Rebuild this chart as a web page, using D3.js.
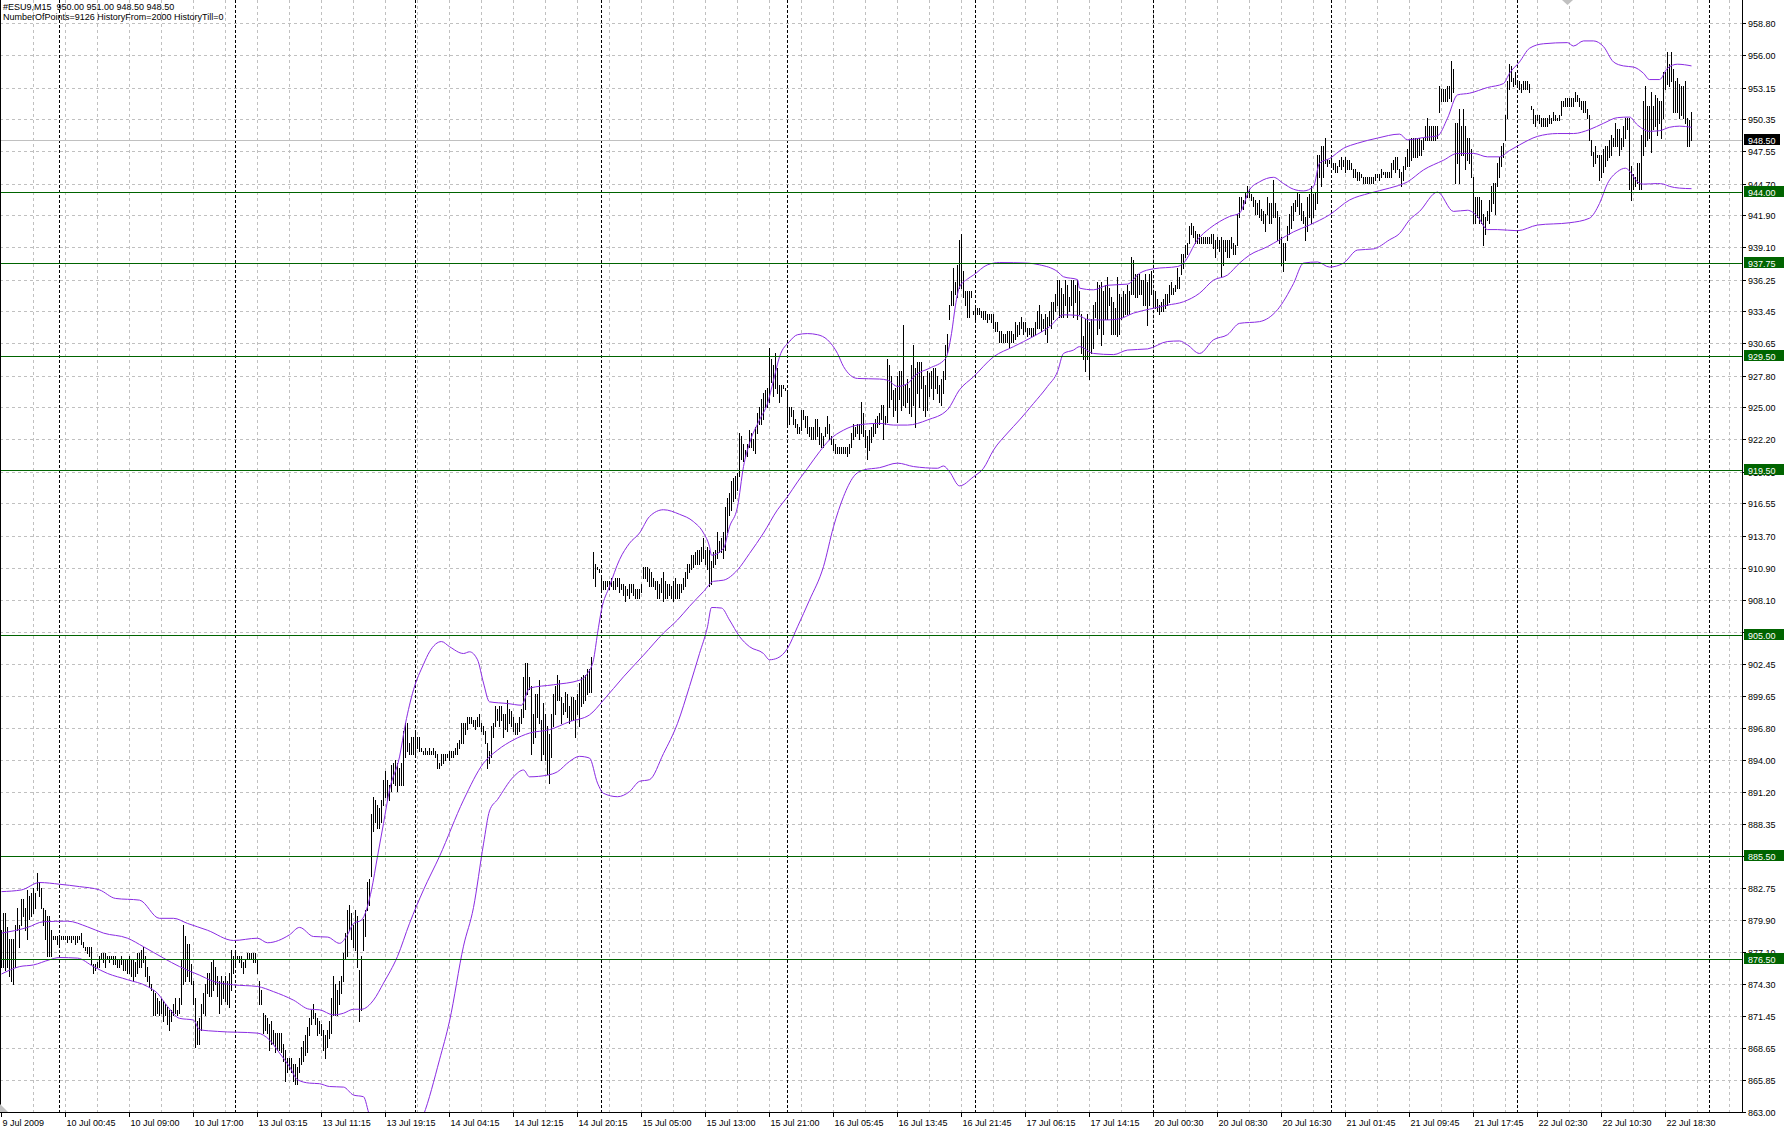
<!DOCTYPE html>
<html><head><meta charset="utf-8">
<script src="https://cdn.jsdelivr.net/npm/d3@7"></script>
<style>
html,body{margin:0;padding:0;background:#fff;overflow:hidden}
svg{display:block}
text{font-family:"Liberation Sans",Arial,sans-serif;font-size:9px;white-space:pre}
</style>
</head><body>
<svg id="chart" width="1784" height="1132"></svg>
<script>
// ---------------- DATA ----------------
const symbolTitle = "#ESU9,M15  950.00 951.00 948.50 948.50";
const infoLine = "NumberOfPoints=9126 HistoryFrom=2000 HistoryTill=0";

const highs = [
/*0*/ 879.0,880.5,880.5,879.25,878.25,878.25,878.25,879.5,881.0,879.5,
/*10*/ 881.75,881.75,881.0,882.5,882.0,882.25,882.75,882.25,884.0,883.25,
/*20*/ 882.75,881.0,880.75,880.25,880.25,879.0,878.5,878.5,878.5,878.5,
/*30*/ 878.5,878.5,878.5,878.5,878.5,878.5,878.5,878.5,878.5,878.5,
/*40*/ 878.75,878.0,877.5,877.5,877.5,877.5,876.0,876.0,876.25,876.75,
/*50*/ 877.0,877.0,877.0,876.75,876.75,876.75,876.75,876.75,876.5,876.5,
/*60*/ 876.75,876.5,876.5,876.5,876.75,876.5,876.5,876.25,877.0,877.0,
/*70*/ 877.25,877.5,876.75,875.75,875.0,874.25,873.75,873.5,873.0,872.75,
/*80*/ 873.0,872.75,872.5,872.25,872.0,872.0,872.5,873.0,872.0,873.0,
/*90*/ 876.5,879.5,878.5,877.75,877.75,876.0,874.5,873.0,871.0,871.25,
/*100*/ 872.5,873.5,874.25,875.25,875.25,876.25,876.5,875.75,875.0,874.5,
/*110*/ 875.0,874.5,875.0,874.5,875.25,877.25,876.75,877.0,876.75,876.75,
/*120*/ 876.75,876.25,876.5,877.0,877.0,877.0,877.0,877.0,876.5,874.5,
/*130*/ 873.75,871.75,871.5,871.25,870.75,871.0,870.25,870.0,870.0,870.0,
/*140*/ 870.0,869.0,868.5,867.75,867.75,867.75,867.25,867.25,867.0,867.75,
/*150*/ 868.75,869.25,869.75,870.5,871.25,872.0,872.5,871.75,871.25,871.0,
/*160*/ 870.75,870.25,869.75,870.25,871.0,873.0,875.0,874.25,873.75,874.5,
/*170*/ 875.0,877.0,878.75,880.75,881.25,880.5,879.5,880.75,880.25,875.5,
/*180*/ 876.75,880.0,880.75,883.25,883.5,889.25,890.75,890.5,890.0,889.75,
/*190*/ 890.5,892.25,893.0,892.25,891.75,893.5,893.75,894.0,893.75,893.25,
/*200*/ 893.75,896.5,897.25,897.25,895.5,896.0,896.0,896.5,896.0,896.0,
/*210*/ 895.0,894.75,895.0,894.75,895.0,894.75,895.0,894.75,894.5,893.75,
/*220*/ 894.5,894.5,894.5,894.5,894.75,894.75,894.75,895.0,895.5,895.75,
/*230*/ 897.25,897.25,897.25,897.75,897.75,897.75,897.5,897.5,897.75,898.0,
/*240*/ 897.25,897.0,896.5,895.5,894.75,897.0,897.25,898.75,898.5,898.75,
/*250*/ 898.75,898.0,898.0,899.25,898.5,898.25,897.75,897.25,897.25,897.75,
/*260*/ 898.5,901.25,902.5,902.5,901.25,900.5,898.0,899.75,899.75,901.0,
/*270*/ 897.5,899.0,898.0,897.0,896.25,898.0,899.75,900.5,901.5,901.0,
/*280*/ 899.5,899.0,900.0,899.75,898.75,899.5,899.5,899.25,899.75,900.75,
/*290*/ 901.25,901.5,901.5,902.0,902.0,903.0,912.25,911.25,911.0,910.75,
/*300*/ 910.25,909.75,909.75,909.75,909.75,910.0,909.75,910.0,910.0,910.0,
/*310*/ 909.5,909.5,909.25,909.0,909.5,909.5,909.5,909.0,909.0,909.0,
/*320*/ 909.5,911.0,911.0,911.0,910.75,910.5,910.0,909.75,909.75,909.5,
/*330*/ 910.0,910.5,909.75,909.5,909.5,909.25,909.75,910.0,909.5,909.5,
/*340*/ 909.5,910.0,910.5,911.25,911.25,912.0,912.0,912.25,912.5,912.5,
/*350*/ 912.75,913.5,912.5,912.75,912.5,911.5,912.25,912.5,914.0,913.25,
/*360*/ 913.5,914.0,916.25,917.0,917.5,918.5,918.75,919.0,919.25,922.75,
/*370*/ 922.5,921.75,921.25,921.75,923.0,922.75,922.25,923.25,924.5,925.0,
/*380*/ 925.75,926.25,926.5,926.75,930.25,929.25,928.75,929.75,928.5,927.0,
/*390*/ 927.0,927.0,926.75,926.5,925.0,925.0,924.75,924.0,923.5,923.25,
/*400*/ 924.75,924.75,924.25,924.25,923.25,923.25,923.25,924.0,924.0,923.25,
/*410*/ 922.75,922.5,923.25,924.25,923.5,922.5,922.25,921.75,921.5,921.5,
/*420*/ 921.5,921.5,921.5,921.5,921.75,922.75,923.5,923.25,923.5,923.5,
/*430*/ 925.5,924.5,923.0,922.5,923.0,923.25,923.5,924.0,924.25,924.5,
/*440*/ 925.25,925.25,924.25,929.25,928.75,927.75,926.5,926.75,927.75,928.25,
/*450*/ 928.25,932.25,927.0,927.5,926.75,928.75,930.5,928.5,929.0,929.0,
/*460*/ 929.0,927.75,927.0,928.25,928.0,928.25,928.5,928.5,927.75,927.0,
/*470*/ 927.5,928.25,930.5,931.5,934.0,935.25,937.25,936.0,937.5,939.75,
/*480*/ 940.25,937.0,935.25,935.25,935.25,935.25,933.5,933.75,933.75,933.75,
/*490*/ 933.5,933.5,933.5,933.25,933.25,933.25,933.25,932.5,932.5,931.75,
/*500*/ 931.75,931.5,931.5,931.75,931.75,931.75,931.5,932.5,932.25,932.5,
/*510*/ 933.0,932.5,932.5,932.0,932.0,932.0,932.0,932.5,933.5,934.0,
/*520*/ 933.25,932.75,933.25,933.0,933.5,934.25,934.25,935.0,936.25,936.25,
/*530*/ 935.5,935.0,936.25,935.75,934.75,936.25,936.25,935.75,936.25,935.25,
/*540*/ 933.25,931.25,932.75,933.25,932.5,932.75,934.0,934.25,936.0,935.75,
/*550*/ 936.0,935.25,935.75,936.5,935.5,934.75,934.25,933.75,936.5,935.0,
/*560*/ 934.75,935.25,935.0,935.75,935.25,938.25,938.0,936.75,936.75,936.75,
/*570*/ 936.25,936.25,936.75,936.0,936.75,937.0,935.25,935.25,934.5,934.0,
/*580*/ 934.25,934.5,935.0,935.0,935.75,936.0,935.5,935.75,937.25,936.5,
/*590*/ 938.5,938.5,939.25,939.5,941.0,941.25,941.0,940.5,940.25,940.25,
/*600*/ 940.0,940.0,940.0,940.0,940.0,940.25,940.25,939.75,940.0,939.75,
/*610*/ 940.0,939.75,939.75,939.75,939.75,940.0,939.5,939.25,942.0,943.5,
/*620*/ 943.5,943.25,944.0,944.5,944.25,943.75,943.5,943.25,943.0,943.25,
/*630*/ 942.5,942.25,942.0,943.5,943.0,943.0,945.0,943.0,942.25,941.75,
/*640*/ 940.0,939.5,939.5,941.0,942.0,942.75,943.0,943.25,944.0,943.75,
/*650*/ 943.0,942.25,941.75,943.5,943.75,944.5,943.75,944.0,947.25,947.25,
/*660*/ 948.0,948.0,948.75,946.75,946.75,947.0,946.5,946.5,946.25,946.75,
/*670*/ 947.0,946.75,947.0,946.75,946.75,946.5,946.0,946.0,945.75,945.75,
/*680*/ 945.5,945.25,945.25,945.25,945.25,945.25,945.25,945.5,945.5,945.5,
/*690*/ 946.0,945.75,945.75,945.75,945.75,946.5,946.75,947.0,947.0,946.0,
/*700*/ 945.75,946.25,947.0,947.75,948.5,948.75,948.75,948.75,948.75,948.75,
/*710*/ 948.5,948.75,949.75,950.5,949.75,949.75,949.75,949.75,949.75,953.25,
/*720*/ 953.0,953.0,953.0,953.25,953.25,955.5,954.75,950.0,950.0,951.25,
/*730*/ 949.75,951.25,949.75,948.75,948.75,947.75,945.25,943.5,943.5,943.5,
/*740*/ 943.25,942.0,941.75,942.25,943.25,944.5,944.75,944.75,946.5,947.0,
/*750*/ 948.0,948.25,950.75,953.75,955.25,955.0,954.0,954.5,953.75,953.75,
/*760*/ 953.5,953.75,953.75,953.75,953.5,951.5,951.25,950.75,950.75,950.75,
/*770*/ 950.5,950.5,950.5,950.5,950.75,950.5,951.0,950.75,950.5,950.75,
/*780*/ 952.0,952.0,952.25,952.25,952.25,952.25,952.25,952.75,952.5,952.25,
/*790*/ 952.0,952.0,952.0,951.25,950.75,948.5,947.5,948.0,947.25,947.25,
/*800*/ 947.25,947.75,948.0,948.0,948.5,949.0,948.75,950.0,949.5,949.5,
/*810*/ 948.75,949.75,950.5,950.5,950.5,946.25,945.5,945.25,946.5,946.5,
/*820*/ 949.0,952.0,953.25,951.5,951.5,952.75,951.5,952.5,952.25,952.0,
/*830*/ 952.0,954.5,954.5,956.25,955.25,956.25,954.75,953.75,954.0,953.5,
/*840*/ 953.25,953.25,953.75,950.5,950.25,951.0
];

const lows = [
/*0*/ 875.75,875.75,875.5,875.75,875.0,874.5,874.25,875.75,879.0,877.5,
/*10*/ 879.5,880.25,879.0,878.25,880.0,880.25,880.5,881.0,882.5,882.0,
/*20*/ 881.0,879.5,878.25,876.75,876.75,876.75,878.25,878.25,877.75,877.75,
/*30*/ 878.25,878.25,878.25,878.0,878.25,878.0,878.25,877.75,878.0,878.25,
/*40*/ 877.75,877.5,877.25,877.0,876.75,876.0,875.25,875.5,875.75,875.75,
/*50*/ 876.5,876.25,875.75,876.5,876.25,876.5,876.0,876.0,875.75,875.75,
/*60*/ 876.0,875.5,875.5,875.25,875.25,875.0,874.5,875.0,875.25,875.75,
/*70*/ 875.75,876.25,875.0,874.5,874.0,873.75,871.5,871.5,871.75,871.5,
/*80*/ 871.75,871.0,871.5,870.75,870.25,871.0,871.5,871.75,871.5,871.75,
/*90*/ 872.5,874.25,874.5,875.0,874.5,874.25,872.5,868.75,869.0,869.0,
/*100*/ 870.25,871.75,871.5,873.5,873.25,873.25,873.75,874.25,873.25,871.75,
/*110*/ 872.5,873.0,872.75,872.5,872.25,873.75,875.25,876.0,876.5,876.25,
/*120*/ 875.75,875.25,875.75,876.5,876.5,876.5,876.25,876.25,875.25,872.5,
/*130*/ 872.5,870.0,870.25,870.0,868.5,869.0,869.0,868.25,868.5,868.5,
/*140*/ 868.25,867.5,865.75,866.5,866.75,866.5,865.75,865.5,865.5,866.5,
/*150*/ 867.25,867.5,868.0,868.25,869.75,870.75,871.25,870.75,869.75,870.0,
/*160*/ 869.75,868.5,867.75,868.75,869.5,870.0,871.5,871.5,871.5,872.5,
/*170*/ 873.5,874.5,876.5,876.75,879.0,878.25,877.5,877.25,875.75,871.0,
/*180*/ 872.0,877.25,878.5,880.75,881.25,883.75,887.75,888.5,888.0,888.0,
/*190*/ 888.5,890.0,890.75,890.5,890.5,891.25,892.0,891.75,891.25,891.75,
/*200*/ 891.75,891.75,894.25,894.75,894.5,894.5,894.5,894.25,895.0,894.75,
/*210*/ 894.75,894.5,894.5,894.5,894.5,894.5,894.5,894.25,893.25,893.25,
/*220*/ 893.5,893.75,894.0,894.25,894.0,894.25,894.25,894.5,894.5,895.0,
/*230*/ 895.5,895.5,896.25,896.75,897.25,897.25,897.0,896.75,897.0,897.0,
/*240*/ 896.5,896.25,895.5,893.25,893.75,894.25,896.0,897.0,897.5,897.0,
/*250*/ 897.5,896.0,896.75,896.5,897.25,897.0,896.5,896.25,896.25,896.5,
/*260*/ 897.25,897.75,898.5,899.75,900.25,894.5,895.5,896.0,897.75,897.25,
/*270*/ 894.0,894.5,894.0,892.75,892.0,894.25,897.0,898.0,899.25,899.25,
/*280*/ 897.25,898.0,898.25,897.75,897.25,897.5,897.5,896.0,898.0,897.0,
/*290*/ 898.75,899.0,899.25,899.75,900.0,900.0,910.0,909.25,910.75,910.5,
/*300*/ 909.0,909.0,909.0,909.25,909.0,909.25,909.0,909.0,909.25,908.75,
/*310*/ 909.0,908.5,908.0,908.5,908.25,908.75,908.5,908.25,908.25,908.25,
/*320*/ 908.75,910.0,910.0,909.75,909.25,909.25,909.25,909.0,908.25,908.25,
/*330*/ 908.75,908.0,908.25,908.25,908.5,908.25,908.0,908.25,908.25,908.25,
/*340*/ 908.75,909.0,909.25,910.0,910.5,910.75,911.0,911.25,911.25,911.25,
/*350*/ 911.5,911.75,911.25,910.75,909.25,909.5,911.0,911.25,911.75,912.25,
/*360*/ 912.25,911.75,912.5,914.0,915.5,916.0,916.75,917.0,917.75,919.0,
/*370*/ 920.5,920.25,920.75,920.75,921.5,921.5,921.25,921.0,922.75,923.5,
/*380*/ 923.5,924.0,925.0,925.0,925.5,927.25,926.0,926.75,926.25,925.5,
/*390*/ 926.0,926.75,926.5,923.5,923.5,924.25,923.5,923.25,922.75,922.75,
/*400*/ 923.0,924.0,923.25,922.75,922.5,922.25,922.25,922.25,922.5,921.75,
/*410*/ 921.5,921.5,922.5,922.75,922.25,921.75,921.25,921.0,921.0,921.0,
/*420*/ 921.0,921.0,921.0,920.75,921.0,921.5,922.25,922.5,922.75,922.25,
/*430*/ 922.75,922.5,921.5,920.5,921.25,922.0,922.5,922.75,923.25,923.5,
/*440*/ 924.0,922.25,923.5,923.75,925.0,925.75,924.25,924.75,923.75,925.75,
/*450*/ 924.75,925.25,925.0,925.5,924.5,924.25,925.25,923.25,926.25,925.0,
/*460*/ 926.75,924.75,924.25,924.75,926.0,926.75,925.75,926.75,926.25,925.5,
/*470*/ 925.25,926.25,927.5,929.75,932.75,934.0,934.0,935.0,934.75,935.5,
/*480*/ 935.5,934.75,934.0,933.0,933.0,934.75,933.25,932.75,933.25,933.25,
/*490*/ 933.0,932.75,932.75,932.5,932.75,932.5,932.0,931.75,931.75,930.75,
/*500*/ 930.75,930.75,930.75,930.75,930.25,930.75,930.75,931.0,931.25,931.5,
/*510*/ 932.0,931.5,931.75,931.25,931.5,931.25,931.25,931.5,932.0,932.0,
/*520*/ 931.75,932.0,931.5,930.75,932.25,932.0,932.75,933.5,934.0,933.0,
/*530*/ 933.0,933.0,934.0,933.0,933.5,934.0,933.0,934.25,932.75,933.25,
/*540*/ 929.75,929.25,928.25,929.25,927.5,929.75,930.25,933.0,931.5,932.0,
/*550*/ 930.5,931.5,932.75,932.75,934.0,931.5,931.5,931.5,931.25,931.5,
/*560*/ 932.75,933.0,933.25,933.25,933.25,935.0,935.0,934.75,934.75,935.0,
/*570*/ 935.0,934.0,934.0,932.25,934.0,935.0,934.0,933.75,933.5,933.25,
/*580*/ 933.5,933.5,933.75,934.0,934.25,935.0,935.0,935.25,935.5,935.5,
/*590*/ 936.75,937.25,938.25,938.5,939.5,940.25,940.0,939.5,939.5,939.5,
/*600*/ 939.5,939.5,939.5,939.5,939.5,939.5,939.0,938.25,939.0,938.75,
/*610*/ 936.5,937.5,938.75,938.25,938.25,939.0,938.5,938.5,939.25,941.75,
/*620*/ 942.5,942.5,943.0,943.5,943.5,943.25,942.75,942.0,942.0,941.75,
/*630*/ 941.5,941.25,940.5,942.0,941.25,941.25,941.75,941.75,939.75,939.5,
/*640*/ 937.5,937.0,938.0,939.75,940.25,940.75,941.5,942.25,942.75,942.0,
/*650*/ 941.5,941.25,939.75,940.5,941.75,941.25,941.75,942.5,943.0,945.25,
/*660*/ 944.5,945.25,946.5,946.25,946.5,946.25,946.0,945.75,945.75,946.25,
/*670*/ 946.0,946.25,945.75,946.0,946.0,946.0,945.25,945.25,945.0,945.0,
/*680*/ 945.25,944.75,944.75,944.75,944.75,944.75,944.75,945.0,945.25,945.0,
/*690*/ 945.25,945.5,945.25,945.25,945.25,945.25,946.0,945.75,946.0,945.25,
/*700*/ 944.5,945.0,946.0,946.25,946.25,946.75,947.0,947.0,947.0,947.25,
/*710*/ 947.25,947.75,948.5,948.5,948.5,948.5,948.5,948.5,948.75,951.0,
/*720*/ 952.0,952.0,952.0,952.0,952.25,952.0,952.75,944.75,946.5,944.75,
/*730*/ 947.25,947.25,946.0,946.75,946.5,945.25,941.25,941.25,941.75,941.25,
/*740*/ 941.25,939.25,940.25,941.5,941.25,942.25,943.0,942.0,944.5,945.25,
/*750*/ 946.25,947.0,948.5,950.5,953.0,953.75,953.25,953.5,953.5,953.0,
/*760*/ 952.75,953.0,953.0,953.0,952.75,951.25,950.0,949.75,950.25,950.0,
/*770*/ 949.75,949.75,949.75,949.75,950.0,950.0,950.25,950.25,950.25,950.25,
/*780*/ 950.75,951.5,951.5,951.5,951.5,951.5,951.5,952.0,952.0,951.5,
/*790*/ 951.25,951.0,951.0,950.5,948.5,947.25,946.25,946.5,947.0,945.0,
/*800*/ 945.25,945.75,946.25,946.75,947.0,947.25,948.0,948.0,948.0,947.25,
/*810*/ 947.75,948.0,948.75,949.5,944.25,943.25,944.25,944.5,944.75,944.25,
/*820*/ 944.25,947.25,948.0,948.5,948.75,947.5,949.5,949.75,949.0,950.0,
/*830*/ 948.75,950.5,953.0,953.5,953.25,953.75,951.0,951.0,951.0,950.5,
/*840*/ 950.75,950.5,950.0,948.0,948.0,948.5
];

// Bollinger bands, read at [barIndex, price]
const upperBand = [[0,882.4],[10,882.55],[19,883.2],[29,883.05],[39,882.84],[49,882.55],[57,881.8],[69,881.65],[79,880.05],[86,880.05],[93,879.6],[103,879.0],[116,878.1],[128,878.3],[133,877.9],[144,878.6],[149,879.25],[156,878.45],[163,878.4],[169,877.85],[173,878.6],[176,879.6],[180,879.9],[183,881.1],[185,882.55],[188,885.5],[191,888.4],[194,891.35],[199,894.25],[202,897.2],[206,900.15],[211,902.4],[214,903.5],[220,904.4],[224,903.95],[231,903.35],[234,903.5],[238,902.8],[241,900.75],[244,899.1],[253,898.95],[260,898.8],[264,900.3],[276,900.6],[289,901.0],[293,901.6],[296,902.8],[298,905.1],[300,907.2],[304,909.25],[309,911.6],[314,913.05],[319,913.95],[324,915.4],[331,916.0],[339,915.6],[346,914.95],[351,913.95],[354,912.75],[355,912.0],[361,912.6],[364,914.5],[368,916.25],[371,919.8],[374,921.85],[379,923.9],[383,925.35],[386,927.4],[389,929.45],[394,930.8],[398,931.4],[403,931.5],[408,931.4],[413,930.95],[418,929.75],[421,928.6],[428,927.55],[439,927.5],[443,927.4],[448,926.85],[453,927.1],[457,927.85],[464,928.45],[472,929.3],[475,931.5],[477,934.0],[479,935.6],[483,936.3],[486,936.65],[493,937.55],[499,937.75],[513,937.7],[519,937.55],[528,936.95],[531,936.5],[538,936.25],[539,935.5],[546,935.35],[553,935.75],[563,935.85],[569,936.8],[576,937.2],[588,937.4],[591,937.7],[598,939.75],[604,940.75],[609,941.35],[614,941.8],[619,942.1],[624,944.15],[629,944.85],[636,945.25],[641,944.7],[646,944.2],[651,944.05],[656,944.45],[659,946.5],[664,946.9],[671,947.8],[678,948.25],[688,948.7],[699,949.05],[703,948.55],[711,948.75],[718,948.9],[723,950.45],[728,952.5],[734,952.65],[743,953.15],[751,953.5],[754,954.4],[759,955.4],[764,956.6],[771,957.0],[783,957.1],[786,956.8],[791,957.25],[796,957.25],[801,956.75],[806,955.4],[811,955.05],[816,954.95],[821,954.4],[824,953.85],[829,953.85],[833,954.85],[838,955.2],[845,955.05]];

const middleBand = [[0,878.75],[13,879.25],[21,879.75],[33,879.8],[43,879.3],[51,878.75],[63,878.3],[71,877.55],[81,876.55],[89,875.8],[99,875.05],[106,874.5],[116,874.2],[128,874.05],[136,873.6],[146,872.85],[154,872.05],[159,872.0],[166,871.55],[171,871.7],[176,872.05],[180,872.05],[186,872.85],[191,874.35],[198,876.7],[204,879.6],[211,882.55],[219,885.5],[231,890.45],[241,893.7],[248,894.85],[256,895.75],[264,896.35],[274,896.65],[284,897.35],[294,897.95],[301,899.25],[311,901.3],[321,903.2],[331,905.15],[338,906.3],[344,907.5],[351,908.8],[356,909.7],[361,909.8],[368,910.7],[374,912.15],[381,913.95],[388,916.0],[393,917.15],[398,918.45],[403,919.65],[409,921.1],[414,922.15],[421,923.0],[428,923.45],[439,923.6],[446,923.45],[453,923.45],[463,923.9],[473,924.8],[479,926.55],[486,927.7],[496,929.45],[506,930.35],[516,931.25],[524,932.1],[531,933.15],[538,933.1],[544,932.7],[553,932.7],[559,932.8],[566,933.3],[574,933.65],[583,934.0],[591,934.3],[599,935.05],[606,936.2],[613,936.65],[619,937.7],[624,938.4],[633,939.15],[639,939.75],[646,940.45],[654,941.05],[664,941.95],[674,943.25],[684,943.85],[694,944.3],[703,944.85],[711,945.9],[721,946.75],[728,947.35],[736,947.35],[743,947.05],[749,947.05],[754,947.6],[759,948.1],[768,948.85],[778,949.1],[786,949.1],[794,949.45],[801,950.0],[808,950.5],[814,950.55],[818,949.85],[824,949.3],[829,949.35],[834,949.65],[839,949.75],[845,949.65]];

const lowerBand = [[0,875.15],[9,875.8],[16,875.95],[24,876.4],[29,876.6],[38,876.55],[46,875.8],[53,875.2],[63,874.65],[73,874.05],[78,873.45],[83,872.3],[89,871.25],[96,871.1],[99,870.25],[108,870.1],[128,869.95],[134,869.35],[139,868.2],[144,867.0],[148,865.85],[154,865.55],[159,865.5],[164,865.25],[171,865.2],[176,864.5],[181,864.35],[184,862.75],[186,862.2],[191,860.25],[198,859.7],[204,860.5],[211,862.75],[219,867.6],[224,871.0],[231,877.6],[236,881.0],[241,886.6],[244,889.5],[248,890.5],[256,892.5],[261,893.1],[264,892.5],[273,892.65],[278,892.95],[284,893.85],[289,894.3],[294,894.15],[298,891.95],[301,891.05],[308,890.75],[314,891.2],[319,892.1],[324,892.25],[331,894.55],[338,897.2],[344,900.45],[349,903.35],[353,905.7],[355,907.4],[360,907.35],[364,906.3],[369,904.85],[374,903.95],[381,903.35],[384,902.8],[388,902.95],[393,903.8],[398,905.7],[404,908.05],[411,911.0],[416,914.5],[421,917.15],[426,918.9],[431,919.5],[439,919.7],[448,920.1],[456,919.8],[468,919.65],[471,919.85],[474,919.35],[479,918.1],[486,918.9],[491,919.65],[496,921.25],[503,922.75],[509,923.9],[516,925.35],[523,926.85],[528,928.15],[531,929.75],[536,930.05],[539,930.35],[546,929.75],[556,929.65],[563,930.05],[573,930.15],[583,930.8],[589,930.85],[593,930.5],[599,929.75],[606,930.95],[613,931.4],[619,932.4],[629,932.55],[638,933.6],[646,935.9],[651,937.7],[658,937.8],[664,937.35],[671,937.7],[678,938.85],[686,938.95],[694,939.75],[699,940.3],[704,941.5],[709,942.25],[718,943.95],[726,942.25],[733,942.35],[738,941.8],[743,940.65],[748,940.65],[758,940.55],[768,941.05],[784,941.25],[794,941.65],[799,942.95],[803,944.7],[808,945.75],[812,946.05],[814,945.8],[818,944.85],[821,944.65],[828,944.7],[831,944.65],[834,944.45],[839,944.3],[845,944.25]];

const timeLabels = ["9 Jul 2009","10 Jul 00:45","10 Jul 09:00","10 Jul 17:00","13 Jul 03:15","13 Jul 11:15","13 Jul 19:15","14 Jul 04:15","14 Jul 12:15","14 Jul 20:15","15 Jul 05:00","15 Jul 13:00","15 Jul 21:00","16 Jul 05:45","16 Jul 13:45","16 Jul 21:45","17 Jul 06:15","17 Jul 14:15","20 Jul 00:30","20 Jul 08:30","20 Jul 16:30","21 Jul 01:45","21 Jul 09:45","21 Jul 17:45","22 Jul 02:30","22 Jul 10:30","22 Jul 18:30"];
const timeLabelBars = [0,32,64,96,128,160,192,224,256,288,320,352,384,416,448,480,512,544,576,608,640,672,704,736,768,800,832];
const daySeparatorBars = [29,117,207,300,393,487,576,665,758,854];

const priceTicks = ["863.00","865.85","868.65","871.45","874.30","877.10","879.90","882.75","885.55","888.35","891.20","894.00","896.80","899.65","902.45","905.25","908.10","910.90","913.70","916.55","919.35","922.20","925.00","927.80","930.65","933.45","936.25","939.10","941.90","944.70","947.55","950.35","953.15","956.00","958.80"];

const levelLines = [944.00, 937.75, 929.50, 919.50, 905.00, 885.50, 876.50];
const lastPrice = 948.50;

// ---------------- DRAW ----------------
const svg = d3.select("#chart");
const W = 1784, H = 1132;
const plotRight = 1742, plotBottom = 1112;

const x = d3.scaleLinear().domain([0, 1]).range([1.5, 3.5]);           // bar index -> px
const y = d3.scaleLinear().domain([863, 958.8]).range([1112.1, 23.3]); // price -> px
const yc = v => Math.round(y(v)) + 0.5;

svg.append("rect").attr("width", W).attr("height", H).attr("fill", "#fff");

const defs = svg.append("defs");
defs.append("clipPath").attr("id", "plotClip").append("rect")
  .attr("x", 0).attr("y", 0).attr("width", plotRight).attr("height", plotBottom);

const grid = svg.append("g").attr("shape-rendering", "crispEdges");
grid.selectAll("line.hg").data(priceTicks).join("line")
  .attr("x1", 0).attr("x2", plotRight)
  .attr("y1", d => yc(+d)).attr("y2", d => yc(+d))
  .attr("stroke", "#c0c0c0").attr("stroke-dasharray", "3,3");
const vgBars = d3.range(16, 880, 16).filter(b => x(b) < plotRight);
grid.selectAll("line.vg").data(vgBars).join("line")
  .attr("x1", d => x(d)).attr("x2", d => x(d))
  .attr("y1", 0).attr("y2", plotBottom)
  .attr("stroke", "#c0c0c0").attr("stroke-dasharray", "3,3");
grid.selectAll("line.sep").data(daySeparatorBars).join("line")
  .attr("x1", d => x(d)).attr("x2", d => x(d))
  .attr("y1", 0).attr("y2", plotBottom)
  .attr("stroke", "#000").attr("stroke-dasharray", "3,2");

const plot = svg.append("g").attr("clip-path", "url(#plotClip)");

plot.append("line").attr("x1", 0).attr("x2", plotRight)
  .attr("y1", yc(lastPrice)).attr("y2", yc(lastPrice))
  .attr("stroke", "#c0c0c0").attr("shape-rendering", "crispEdges");

plot.append("g").attr("shape-rendering", "crispEdges").selectAll("rect").data(highs).join("rect")
  .attr("x", (d, i) => x(i) - 0.5)
  .attr("width", 1)
  .attr("y", d => Math.round(y(d)))
  .attr("height", (d, i) => Math.max(1, Math.round(y(lows[i])) - Math.round(y(d)) + 1))
  .attr("fill", "#000");

const bandLine = d3.line().x(d => x(d[0])).y(d => y(d[1])).curve(d3.curveMonotoneX);
[upperBand, middleBand, lowerBand].forEach(b => {
  plot.append("path").attr("d", bandLine(b)).attr("fill", "none")
    .attr("stroke", "#8a2be2").attr("stroke-width", 1);
});

plot.selectAll("line.lvl").data(levelLines).join("line")
  .attr("x1", 0).attr("x2", plotRight)
  .attr("y1", d => yc(d)).attr("y2", d => yc(d))
  .attr("stroke", "#006400").attr("shape-rendering", "crispEdges");

const axes = svg.append("g").attr("shape-rendering", "crispEdges");
axes.append("line").attr("x1", plotRight + 0.5).attr("x2", plotRight + 0.5).attr("y1", 0).attr("y2", plotBottom + 1).attr("stroke", "#000");
axes.append("line").attr("x1", 0).attr("x2", plotRight + 1).attr("y1", plotBottom + 0.5).attr("y2", plotBottom + 0.5).attr("stroke", "#000");
axes.append("line").attr("x1", 0.5).attr("x2", 0.5).attr("y1", 0).attr("y2", plotBottom).attr("stroke", "#000");

const pa = svg.append("g");
pa.selectAll("line").data(priceTicks).join("line")
  .attr("x1", plotRight + 1).attr("x2", plotRight + 4)
  .attr("y1", d => yc(+d)).attr("y2", d => yc(+d))
  .attr("stroke", "#000").attr("shape-rendering", "crispEdges");
pa.selectAll("text").data(priceTicks).join("text")
  .attr("x", plotRight + 6).attr("y", d => Math.round(y(+d)) + 3.5)
  .attr("fill", "#000").text(d => d);

const ll = svg.append("g");
levelLines.forEach(v => {
  const cy = Math.round(y(v));
  ll.append("rect").attr("x", plotRight + 2).attr("y", cy - 6).attr("width", 40).attr("height", 11).attr("fill", "#006400");
  ll.append("text").attr("x", plotRight + 6).attr("y", cy + 3.5).attr("fill", "#fff").text(d3.format(".2f")(v));
});
{
  const cy = Math.round(y(lastPrice));
  ll.append("rect").attr("x", plotRight + 2).attr("y", cy - 6).attr("width", 36).attr("height", 11).attr("fill", "#000");
  ll.append("text").attr("x", plotRight + 6).attr("y", cy + 3.5).attr("fill", "#fff").text(d3.format(".2f")(lastPrice));
}

const ta = svg.append("g");
ta.selectAll("line").data(timeLabelBars).join("line")
  .attr("x1", d => x(d)).attr("x2", d => x(d))
  .attr("y1", plotBottom + 1).attr("y2", plotBottom + 5)
  .attr("stroke", "#000").attr("shape-rendering", "crispEdges");
ta.selectAll("text").data(timeLabels).join("text")
  .attr("x", (d, i) => x(timeLabelBars[i]) + 1).attr("y", 1126)
  .attr("fill", "#000").text(d => d);

svg.append("polygon").attr("points", "0,1104 0,1112 8,1112").attr("fill", "#c0c0c0");
svg.append("polygon").attr("points", "1562,0 1573,0 1567.5,5").attr("fill", "#c0c0c0");

svg.append("text").attr("x", 3).attr("y", 9.5).attr("fill", "#000").text(symbolTitle);
svg.append("text").attr("x", 3).attr("y", 20).attr("fill", "#000").text(infoLine);
</script>
</body></html>
